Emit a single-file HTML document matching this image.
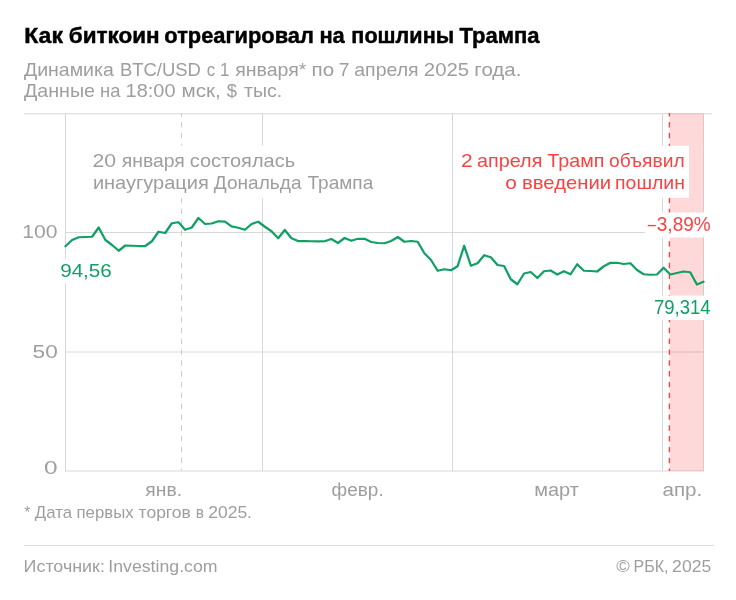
<!DOCTYPE html>
<html lang="ru"><head><meta charset="utf-8"><title>Как биткоин отреагировал на пошлины Трампа</title>
<style>
html,body{margin:0;padding:0;background:#fff;}
svg{display:block;font-family:"Liberation Sans",sans-serif;}
</style></head><body>
<svg width="736" height="600" viewBox="0 0 736 600">
<rect width="736" height="600" fill="#fff"/>
<!-- grid -->
<g stroke="#d8d8d8" stroke-width="1" fill="none">
<line x1="65" y1="232.5" x2="704" y2="232.5"/>
<line x1="65" y1="352" x2="704" y2="352"/>
<line x1="65" y1="471" x2="704" y2="471"/>
<line x1="65.5" y1="114" x2="65.5" y2="471"/>
<line x1="262.5" y1="114" x2="262.5" y2="471"/>
<line x1="452.5" y1="114" x2="452.5" y2="471"/>
<line x1="662.5" y1="114" x2="662.5" y2="471"/>
<line x1="703.5" y1="114" x2="703.5" y2="471"/>
</g>
<line x1="24" y1="113.8" x2="712" y2="113.8" stroke="#d6d6d6" stroke-width="1"/>
<!-- pink band -->
<rect x="669.5" y="113.2" width="34" height="357.8" fill="#ff2a2a" fill-opacity="0.175"/>
<line x1="181.5" y1="111.17" x2="181.5" y2="471" stroke="#cccccc" stroke-width="1" stroke-dasharray="5.4 5.43"/>
<line x1="669.4" y1="111.17" x2="669.4" y2="471" stroke="#f94242" stroke-width="1.35" stroke-dasharray="5.4 5.43"/>
<rect x="24" y="100" width="688" height="13" fill="#fff"/>
<text id="title" y="43.0" font-size="21.8" fill="#000" font-weight="700" stroke="#000" stroke-width="0.45"><tspan id="title_0" x="24.24" textLength="38.68" lengthAdjust="spacingAndGlyphs">Как</tspan> <tspan id="title_1" x="68.79" textLength="90.82" lengthAdjust="spacingAndGlyphs">биткоин</tspan> <tspan id="title_2" x="164.37" textLength="149.48" lengthAdjust="spacingAndGlyphs">отреагировал</tspan> <tspan id="title_3" x="319.40" textLength="25.35" lengthAdjust="spacingAndGlyphs">на</tspan> <tspan id="title_4" x="351.35" textLength="102.82" lengthAdjust="spacingAndGlyphs">пошлины</tspan> <tspan id="title_5" x="459.50" textLength="80.12" lengthAdjust="spacingAndGlyphs">Трампа</tspan></text>
<text id="sub1" y="75.6" font-size="17.8" fill="#9e9e9e" ><tspan id="sub1_0" x="23.95" textLength="89.79" lengthAdjust="spacingAndGlyphs">Динамика</tspan> <tspan id="sub1_1" x="119.97" textLength="80.91" lengthAdjust="spacingAndGlyphs">BTC/USD</tspan> <tspan id="sub1_2" x="206.77" textLength="22.53" lengthAdjust="spacingAndGlyphs">с 1</tspan> <tspan id="sub1_3" x="235.16" textLength="71.28" lengthAdjust="spacingAndGlyphs">января*</tspan> <tspan id="sub1_4" x="311.60" textLength="22.62" lengthAdjust="spacingAndGlyphs">по</tspan> <tspan id="sub1_5" x="338.75" textLength="10.70" lengthAdjust="spacingAndGlyphs">7</tspan> <tspan id="sub1_6" x="354.29" textLength="64.39" lengthAdjust="spacingAndGlyphs">апреля</tspan> <tspan id="sub1_7" x="423.81" textLength="45.35" lengthAdjust="spacingAndGlyphs">2025</tspan> <tspan id="sub1_8" x="474.37" textLength="47.11" lengthAdjust="spacingAndGlyphs">года.</tspan></text>
<text id="sub2" y="96.9" font-size="17.8" fill="#9e9e9e" ><tspan id="sub2_0" x="23.95" textLength="71.04" lengthAdjust="spacingAndGlyphs">Данные</tspan> <tspan id="sub2_1" x="100.03" textLength="20.39" lengthAdjust="spacingAndGlyphs">на</tspan> <tspan id="sub2_2" x="125.60" textLength="49.93" lengthAdjust="spacingAndGlyphs">18:00</tspan> <tspan id="sub2_3" x="181.49" textLength="39.29" lengthAdjust="spacingAndGlyphs">мск,</tspan> <tspan id="sub2_4" x="226.87" textLength="10.23" lengthAdjust="spacingAndGlyphs">$</tspan> <tspan id="sub2_5" x="243.96" textLength="38.25" lengthAdjust="spacingAndGlyphs">тыс.</tspan></text>
<text id="y100" y="238.2" font-size="19" fill="#9e9e9e" ><tspan id="y100_0" x="22.27" textLength="35.22" lengthAdjust="spacingAndGlyphs">100</tspan></text>
<text id="y50" y="358.2" font-size="19" fill="#9e9e9e" ><tspan id="y50_0" x="32.63" textLength="25.19" lengthAdjust="spacingAndGlyphs">50</tspan></text>
<text id="y0" y="473.9" font-size="19" fill="#9e9e9e" ><tspan id="y0_0" x="44.00" textLength="13.57" lengthAdjust="spacingAndGlyphs">0</tspan></text>
<text id="jan" y="495.5" font-size="18.8" fill="#9e9e9e" ><tspan id="jan_0" x="145.35" textLength="36.70" lengthAdjust="spacingAndGlyphs">янв.</tspan></text>
<text id="feb" y="495.5" font-size="18.8" fill="#9e9e9e" ><tspan id="feb_0" x="331.64" textLength="52.06" lengthAdjust="spacingAndGlyphs">февр.</tspan></text>
<text id="mar" y="495.5" font-size="18.8" fill="#9e9e9e" ><tspan id="mar_0" x="534.19" textLength="44.66" lengthAdjust="spacingAndGlyphs">март</tspan></text>
<text id="apr" y="495.5" font-size="18.8" fill="#9e9e9e" ><tspan id="apr_0" x="662.46" textLength="39.75" lengthAdjust="spacingAndGlyphs">апр.</tspan></text>
<!-- annotations -->
<rect x="88" y="145.5" width="290" height="52.5" fill="#fff"/>
<rect x="457" y="145.8" width="232" height="52" fill="#fff"/>
<rect x="645" y="212.5" width="70" height="25" fill="#fff"/>
<rect x="57" y="258.75" width="58" height="24.75" fill="#fff"/>
<rect x="650" y="295.6" width="64" height="24.4" fill="#fff"/>
<!-- line -->
<polyline points="65.5,246.25 72.1,240.00 78.8,237.25 85.4,237.00 92.1,236.75 98.7,227.50 105.4,240.00 112.0,245.00 118.7,250.75 125.3,245.50 132.0,245.75 138.6,246.00 145.2,246.00 151.9,241.25 158.5,231.75 165.2,233.00 171.8,223.25 178.5,222.25 185.1,229.75 191.8,227.50 198.4,218.00 205.1,224.00 211.7,223.50 218.4,221.25 225.0,221.62 231.6,226.38 238.3,227.75 244.9,229.75 251.6,224.00 258.2,221.75 264.9,226.75 271.5,231.25 278.2,238.25 284.8,230.00 291.5,238.25 298.1,241.00 304.8,241.00 311.4,241.25 318.0,241.38 324.7,241.25 331.3,239.00 338.0,243.00 344.6,238.00 351.3,240.75 357.9,238.75 364.6,238.75 371.2,242.00 377.9,243.00 384.5,243.25 391.1,241.00 397.8,237.00 404.4,241.75 411.1,241.00 417.7,241.75 424.4,253.25 431.0,260.00 437.7,270.75 444.3,269.25 451.0,270.25 457.6,266.25 464.2,245.75 470.9,265.75 477.5,263.25 484.2,255.25 490.8,257.25 497.5,265.00 504.1,266.00 510.8,279.25 517.4,284.25 524.1,273.50 530.7,272.00 537.4,278.00 544.0,271.25 550.6,270.50 557.3,274.50 563.9,271.25 570.6,274.25 577.2,264.25 583.9,270.75 590.5,271.00 597.2,271.50 603.8,266.25 610.5,262.75 617.1,262.75 623.8,264.00 630.4,263.25 637.0,270.00 643.7,274.25 650.3,274.75 657.0,274.50 663.6,267.75 670.3,274.50 676.9,273.00 683.6,271.50 690.2,272.25 696.9,284.50 703.5,281.75" fill="none" stroke="#10a064" stroke-width="2.25" stroke-linejoin="round" stroke-linecap="round"/>
<text id="al1" y="167" font-size="17.8" fill="#9e9e9e" ><tspan id="al1_0" x="92.50" textLength="23.69" lengthAdjust="spacingAndGlyphs">20</tspan> <tspan id="al1_1" x="121.70" textLength="63.12" lengthAdjust="spacingAndGlyphs">января</tspan> <tspan id="al1_2" x="189.84" textLength="105.22" lengthAdjust="spacingAndGlyphs">состоялась</tspan></text>
<text id="al2" y="188.9" font-size="17.8" fill="#9e9e9e" ><tspan id="al2_0" x="92.90" textLength="115.96" lengthAdjust="spacingAndGlyphs">инаугурация</tspan> <tspan id="al2_1" x="213.88" textLength="87.61" lengthAdjust="spacingAndGlyphs">Дональда</tspan> <tspan id="al2_2" x="307.59" textLength="65.64" lengthAdjust="spacingAndGlyphs">Трампа</tspan></text>
<text id="ar1" y="167" font-size="17.8" fill="#f94242" ><tspan id="ar1_0" x="461.05" textLength="11.67" lengthAdjust="spacingAndGlyphs">2</tspan> <tspan id="ar1_1" x="477.14" textLength="65.23" lengthAdjust="spacingAndGlyphs">апреля</tspan> <tspan id="ar1_2" x="547.38" textLength="57.01" lengthAdjust="spacingAndGlyphs">Трамп</tspan> <tspan id="ar1_3" x="609.06" textLength="75.66" lengthAdjust="spacingAndGlyphs">объявил</tspan></text>
<text id="ar2" y="188.9" font-size="17.8" fill="#f94242" ><tspan id="ar2_0" x="505.35" textLength="11.55" lengthAdjust="spacingAndGlyphs">о</tspan> <tspan id="ar2_1" x="522.05" textLength="88.97" lengthAdjust="spacingAndGlyphs">введении</tspan> <tspan id="ar2_2" x="615.06" textLength="69.86" lengthAdjust="spacingAndGlyphs">пошлин</tspan></text>
<text id="pct" y="230.9" font-size="19.4" fill="#f94242" ><tspan id="pct_0" x="647.81" textLength="8.01" lengthAdjust="spacingAndGlyphs">–</tspan><tspan id="pct_1" x="656.78" textLength="53.98" lengthAdjust="spacingAndGlyphs">3,89%</tspan></text>
<text id="v1" y="277.4" font-size="19" fill="#10a064" ><tspan id="v1_0" x="60.18" textLength="51.60" lengthAdjust="spacingAndGlyphs">94,56</tspan></text>
<text id="v2" y="313.5" font-size="19.3" fill="#10a064" ><tspan id="v2_0" x="654.00" textLength="56.55" lengthAdjust="spacingAndGlyphs">79,314</tspan></text>
<text id="fn" y="517.7" font-size="15.7" fill="#9e9e9e" ><tspan id="fn_0" x="24.16" textLength="6.02" lengthAdjust="spacingAndGlyphs">*</tspan> <tspan id="fn_1" x="34.83" textLength="37.22" lengthAdjust="spacingAndGlyphs">Дата</tspan> <tspan id="fn_2" x="76.53" textLength="57.05" lengthAdjust="spacingAndGlyphs">первых</tspan> <tspan id="fn_3" x="138.60" textLength="52.32" lengthAdjust="spacingAndGlyphs">торгов</tspan> <tspan id="fn_4" x="195.76" textLength="8.30" lengthAdjust="spacingAndGlyphs">в</tspan> <tspan id="fn_5" x="208.21" textLength="43.78" lengthAdjust="spacingAndGlyphs">2025.</tspan></text>
<text id="src" y="572" font-size="16.3" fill="#9e9e9e" ><tspan id="src_0" x="23.59" textLength="81.33" lengthAdjust="spacingAndGlyphs">Источник:</tspan> <tspan id="src_1" x="108.29" textLength="109.28" lengthAdjust="spacingAndGlyphs">Investing.com</tspan></text>
<text id="cp" y="572" font-size="16.3" fill="#9e9e9e" ><tspan id="cp_0" x="616.36" textLength="13.51" lengthAdjust="spacingAndGlyphs">©</tspan> <tspan id="cp_1" x="633.58" textLength="34.94" lengthAdjust="spacingAndGlyphs">РБК,</tspan> <tspan id="cp_2" x="672.14" textLength="39.11" lengthAdjust="spacingAndGlyphs">2025</tspan></text>
<!-- footer -->
<line x1="24" y1="545.5" x2="714" y2="545.5" stroke="#dcdcdc" stroke-width="1"/>
</svg>
</body></html>
